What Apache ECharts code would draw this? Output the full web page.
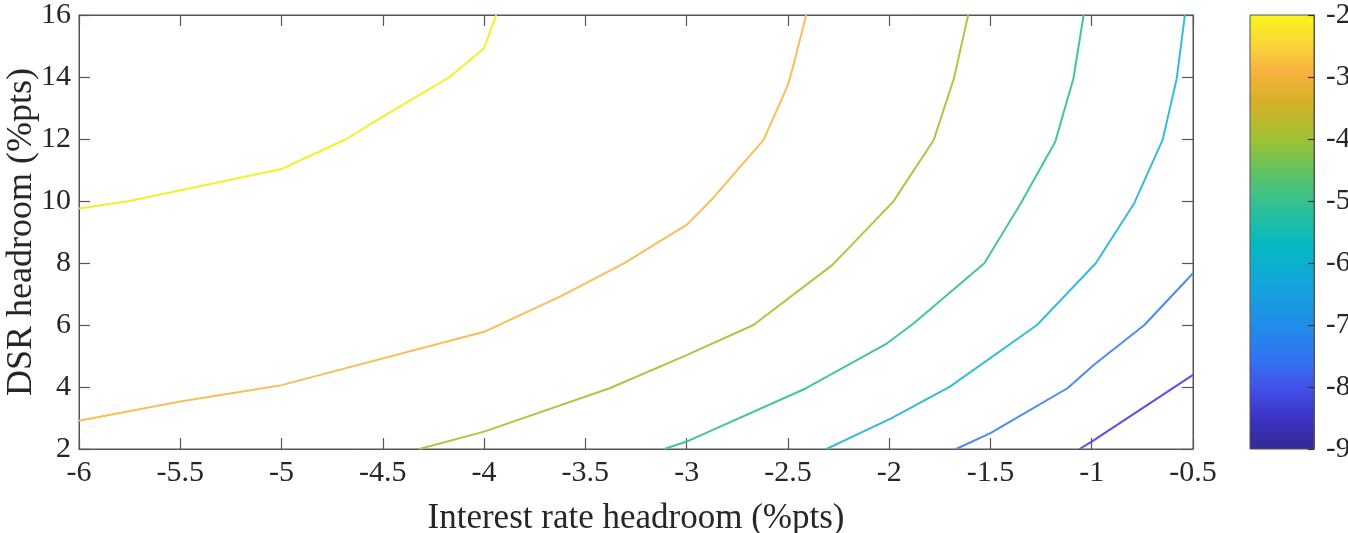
<!DOCTYPE html>
<html>
<head>
<meta charset="utf-8">
<script src="https://cdn.jsdelivr.net/npm/echarts@6/dist/echarts.min.js"></script>
<style>
html,body{margin:0;padding:0;background:#fff;overflow:hidden;}
#chart{width:1348px;height:533px;}
</style>
</head>
<body>
<div id="chart"></div>
<script>
// Data
var xTicks = [-6, -5.5, -5, -4.5, -4, -3.5, -3, -2.5, -2, -1.5, -1, -0.5];
var yTicks = [2, 4, 6, 8, 10, 12, 14, 16];
var levels = [-2, -3, -4, -5, -6, -7, -8];
var colorbarTicks = [-9, -8, -7, -6, -5, -4, -3, -2];

var contourM2 = [[-6,9.76],[-5.75,10],[-5,11.03],[-4.68,12],[-4.5,12.72],[-4.17,14],[-4,14.93],[-3.94,16]];
var contourM3 = [[-6,2.91],[-5.5,3.53],[-5,4.06],[-4,5.78],[-3.62,6.93],[-3.31,7.99],[-3,9.23],[-2.87,10.09],[-2.62,11.97],[-2.5,13.74],[-2.47,14.44],[-2.41,16]];
var contourM4 = [[-4.32,2],[-4,2.56],[-3.38,3.96],[-3,5.03],[-2.67,6.0],[-2.28,7.94],[-1.98,9.98],[-1.78,11.97],[-1.68,13.96],[-1.61,16]];
var contourM5 = [[-3.11,2],[-3,2.24],[-2.41,3.96],[-2.01,5.41],[-1.88,6.05],[-1.53,7.99],[-1.35,9.93],[-1.18,11.91],[-1.09,13.96],[-1.04,16]];
var contourM6 = [[-2.31,2],[-1.99,2.99],[-1.70,4.01],[-1.27,6.0],[-0.98,7.99],[-0.79,9.93],[-0.65,11.97],[-0.58,13.96],[-0.54,16]];
var contourM7 = [[-1.67,2],[-1.5,2.51],[-1.12,3.96],[-0.99,4.71],[-0.74,6.0],[-0.5,7.67]];
var contourM8 = [[-1.06,2],[-1,2.24],[-0.5,4.39]];

var contours = [contourM2, contourM3, contourM4, contourM5, contourM6, contourM7, contourM8];
var lineColors = ['#f0f224', '#f7bf5a', '#b6c246', '#45c4a0', '#34bcd8', '#4c8cf0', '#5a52e0'];

var axisColor = '#555555';
var textColor = '#262626';
var font = 'Liberation Serif';

var chart = echarts.init(document.getElementById('chart'), null, {renderer: 'canvas'});

var series = contours.map(function (c, i) {
  return {
    name: String(levels[i]),
    type: 'line',
    xAxisIndex: 0,
    yAxisIndex: 0,
    data: c,
    symbol: 'none',
    smooth: false,
    clip: true,
    lineStyle: {color: lineColors[i], width: 2},
    z: 3
  };
});

var option = {
  animation: false,
  backgroundColor: '#ffffff',
  grid: [
    {left: 79, top: 15, width: 1114, height: 434, containLabel: false, outerBoundsMode: 'none',
     show: true, borderColor: axisColor, borderWidth: 1, backgroundColor: 'transparent'},
    {left: 1250, top: 15, width: 64, height: 434, containLabel: false, outerBoundsMode: 'none',
     show: true, borderColor: axisColor, borderWidth: 1,
     backgroundColor: {type: 'linear', x: 0, y: 0, x2: 0, y2: 1, colorStops: [
       {offset: 0.00, color: '#f8f618'},
       {offset: 0.07, color: '#fbd53a'},
       {offset: 0.13, color: '#f9b240'},
       {offset: 0.20, color: '#d6b125'},
       {offset: 0.29, color: '#9ec235'},
       {offset: 0.36, color: '#62c262'},
       {offset: 0.43, color: '#35c28e'},
       {offset: 0.53, color: '#04b9c2'},
       {offset: 0.62, color: '#13a6db'},
       {offset: 0.71, color: '#208ee9'},
       {offset: 0.80, color: '#3370f2'},
       {offset: 0.86, color: '#4350ea'},
       {offset: 0.93, color: '#3b32c2'},
       {offset: 1.00, color: '#352a92'}
     ]}}
  ],
  xAxis: [
    {
      type: 'value', gridIndex: 0, min: -6, max: -0.5, interval: 0.5, position: 'bottom',
      name: 'Interest rate headroom (%pts)', nameLocation: 'middle', nameGap: 52, nameMoveOverlap: false,
      nameTextStyle: {fontFamily: font, fontSize: 35, color: textColor, verticalAlign: 'top'},
      axisLine: {show: true, onZero: false, lineStyle: {color: axisColor, width: 1}},
      axisTick: {show: true, inside: true, length: 11, lineStyle: {color: axisColor, width: 1.2}},
      axisLabel: {show: true, margin: 9, fontFamily: font, fontSize: 30, color: textColor,
        formatter: function (v) { return String(v); }},
      splitLine: {show: false}
    },
    {
      type: 'value', gridIndex: 0, min: -6, max: -0.5, interval: 0.5, position: 'top',
      axisLine: {show: true, onZero: false, lineStyle: {color: axisColor, width: 1}},
      axisTick: {show: true, inside: true, length: 11, lineStyle: {color: axisColor, width: 1.2}},
      axisLabel: {show: false},
      splitLine: {show: false}
    },
    {
      type: 'value', gridIndex: 1, min: 0, max: 1, show: false
    }
  ],
  yAxis: [
    {
      type: 'value', gridIndex: 0, min: 2, max: 16, interval: 2, position: 'left',
      name: 'DSR headroom (%pts)', nameLocation: 'middle', nameGap: 57, nameRotate: 90, nameMoveOverlap: false,
      nameTextStyle: {fontFamily: font, fontSize: 36, color: textColor, verticalAlign: 'middle'},
      axisLine: {show: true, onZero: false, lineStyle: {color: axisColor, width: 1}},
      axisTick: {show: true, inside: true, length: 11, lineStyle: {color: axisColor, width: 1.2}},
      axisLabel: {show: true, margin: 8, fontFamily: font, fontSize: 30, color: textColor},
      splitLine: {show: false}
    },
    {
      type: 'value', gridIndex: 0, min: 2, max: 16, interval: 2, position: 'right',
      axisLine: {show: true, onZero: false, lineStyle: {color: axisColor, width: 1}},
      axisTick: {show: true, inside: true, length: 11, lineStyle: {color: axisColor, width: 1.2}},
      axisLabel: {show: false},
      splitLine: {show: false}
    },
    {
      type: 'value', gridIndex: 1, min: -9, max: -2, interval: 1, position: 'right',
      axisLine: {show: true, onZero: false, lineStyle: {color: axisColor, width: 1}},
      axisTick: {show: true, inside: true, length: 6, lineStyle: {color: '#333333', width: 1.2}},
      axisLabel: {show: true, margin: 12, fontFamily: font, fontSize: 29, color: textColor,
        formatter: function (v) { return String(v); }},
      splitLine: {show: false}
    }
  ],
  series: series
};

chart.setOption(option);
</script>
</body>
</html>
